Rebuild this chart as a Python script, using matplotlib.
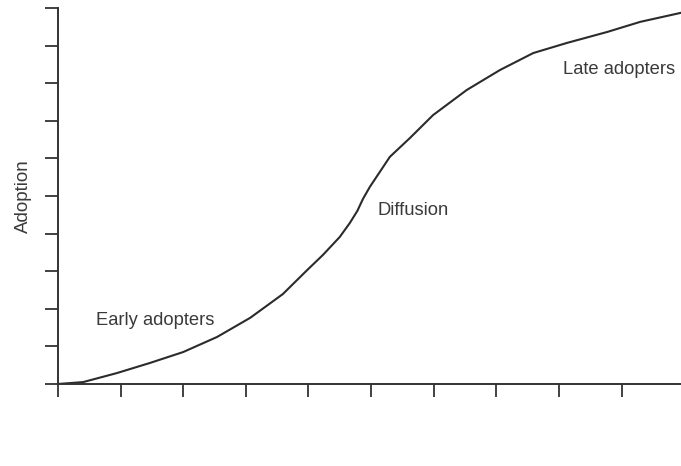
import numpy as np
import matplotlib
matplotlib.use("Agg")
import matplotlib.pyplot as plt

plt.rcParams['font.family'] = ['Liberation Sans', 'DejaVu Sans']

# points (time units, adoption units)
tempo = [0.00, 0.40, 0.94, 1.47, 2.00, 2.54, 3.07, 3.59, 3.98, 4.23, 4.50, 4.66, 4.78,
         4.87, 4.98, 5.14, 5.30, 5.62, 5.99, 6.53, 7.06, 7.59, 8.13, 8.77, 9.30, 9.95]
adozione = [0.00, 0.05, 0.29, 0.56, 0.85, 1.25, 1.76, 2.39, 3.03, 3.43, 3.91, 4.28, 4.60,
            4.92, 5.24, 5.64, 6.04, 6.54, 7.15, 7.82, 8.35, 8.80, 9.07, 9.36, 9.63, 9.87]

etichette = ['Early adopters', 'Diffusion', 'Late adopters']
etichette_x = [0.61, 5.10, 8.07]
etichette_y = [1.70, 4.60, 8.35]

fig = plt.figure(figsize=(6.81, 4.66), dpi=100)
ax = fig.add_axes([0.0852, 0.176, 0.9148, 0.807])

ax.plot(tempo, adozione, color='#2b2b2b', linewidth=1.5, solid_joinstyle='round')

for testo, x, y in zip(etichette, etichette_x, etichette_y):
    ax.text(x, y, testo, fontsize=13.2, color='#3a3a3a', va='center', ha='left')

ax.set_xlim(0, 9.95)
ax.set_ylim(0, 10)
ax.set_xticks(np.arange(0, 10))
ax.set_yticks(np.arange(0, 11))
ax.set_xticklabels([])
ax.set_yticklabels([])
ax.tick_params(direction='out', length=9.4, width=1.3, color='#333333')

for lato in ['top', 'right']:
    ax.spines[lato].set_visible(False)
for lato in ['left', 'bottom']:
    ax.spines[lato].set_linewidth(1.4)
    ax.spines[lato].set_color('#333333')

ax.set_ylabel('Adoption', fontsize=13.5, color='#3a3a3a', labelpad=6)

fig.savefig('out.png', dpi=100)
